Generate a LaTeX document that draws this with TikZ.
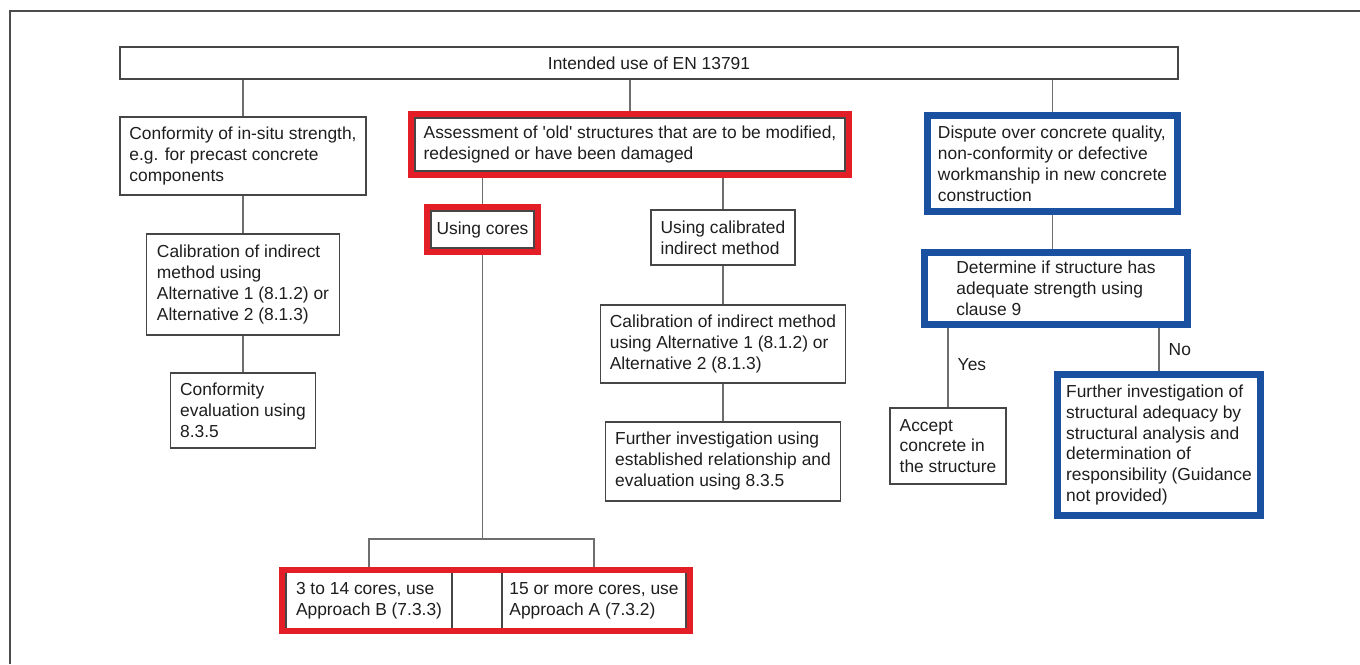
\documentclass[tikz,border=0pt]{standalone}
\usepackage{fontspec}
\setmainfont{Liberation Sans}
\usepackage{tikz}
\usetikzlibrary{positioning, fit}

\definecolor{markred}{RGB}{228,30,38}
\definecolor{markblue}{RGB}{26,80,160}
\definecolor{boxline}{RGB}{70,70,70}
\definecolor{linkgray}{RGB}{110,110,110}
\definecolor{textdark}{RGB}{30,30,30}

\begin{document}
\begin{tikzpicture}[
    x=0.02cm, y=-0.02cm,
    node distance=0.74cm,
    box/.style={rectangle, draw=boxline, line width=1.1pt, fill=white,
                align=left, inner xsep=3pt, inner ysep=2pt, text=textdark,
                font=\fontsize{9.9}{11.9}\selectfont},
    redmark/.style={rectangle, draw=markred, line width=0.12cm, inner sep=0.06cm},
    bluemark/.style={rectangle, draw=markblue, line width=0.14cm, inner sep=0.04cm},
    link/.style={draw=linkgray, line width=1pt},
    answer/.style={text=textdark, font=\fontsize{9.9}{11.9}\selectfont},
    frameline/.style={draw=black!70, line width=1.1pt}
]
\useasboundingbox (0,0) rectangle (1360,664);
\draw[frameline] (10,664) -- (10,11) -- (1360,11);

\node[box, minimum width=21.16cm, minimum height=0.64cm] (intended) at (649,63) {Intended use of EN 13791};

% left branch
\node[box, minimum width=4.92cm, minimum height=1.56cm] (insitu) at (243,156)
    {Conformity of in-situ strength,\\e.g. for precast concrete\\components};
\node[box, minimum width=3.86cm, minimum height=2.02cm, below=0.74cm of insitu] (calleft)
    {Calibration of indirect\\method using\\Alternative 1 (8.1.2) or\\Alternative 2 (8.1.3)};
\node[box, minimum width=2.9cm, minimum height=1.5cm, below=0.72cm of calleft] (confeval)
    {Conformity\\evaluation using\\8.3.5};

% middle branch
\node[box, minimum width=8.6cm, minimum height=1.06cm] (assess) at (630,144.5)
    {Assessment of \textquotesingle old\textquotesingle{} structures that are to be modified,\\redesigned or have been damaged};
\node[box, minimum width=2.02cm, minimum height=0.74cm] (cores) at (482.5,229.5) {Using cores};
\node[box, minimum width=2.88cm, minimum height=1.1cm] (calind) at (723,237.5)
    {Using calibrated\\indirect method};
\node[box, minimum width=4.9cm, minimum height=1.56cm, below=0.76cm of calind] (calright)
    {Calibration of indirect method\\using Alternative 1 (8.1.2) or\\Alternative 2 (8.1.3)};
\node[box, minimum width=4.7cm, minimum height=1.58cm, below=0.74cm of calright] (furtherinv)
    {Further investigation using\\established relationship and\\evaluation using 8.3.5};
\node[box, minimum width=3.32cm, minimum height=1.14cm] (approachB) at (369,600.5)
    {3 to 14 cores, use\\Approach B (7.3.3)};
\node[box, minimum width=3.68cm, minimum height=1.14cm] (approachA) at (594,600.5)
    {15 or more cores, use\\Approach A (7.3.2)};
\coordinate[below=5.8cm of cores] (split);

% right branch
\node[box, minimum width=4.9cm, minimum height=1.82cm] (dispute) at (1052.5,163.5)
    {Dispute over concrete quality,\\non-conformity or defective\\workmanship in new concrete\\construction};
\node[box, minimum width=5.16cm, minimum height=1.34cm] (adequate) at (1056,288.5)
    {Determine if structure has\\adequate strength using\\clause 9};
\node[box, minimum width=2.32cm, minimum height=1.52cm] (accept) at (948,446)
    {Accept\\concrete in\\the structure};
\node[box, minimum width=3.96cm, minimum height=2.72cm] (structural) at (1159,445)
    {Further investigation of\\structural adequacy by\\structural analysis and\\determination of\\responsibility (Guidance\\not provided)};

\draw[link] (insitu.north) -- (insitu.north |- intended.south);
\draw[link] (assess.north) -- (assess.north |- intended.south);
\draw[link] (dispute.north) -- (dispute.north |- intended.south);
\draw[link] (insitu) -- (calleft);
\draw[link] (calleft) -- (confeval);
\draw[link] (cores.north) -- (cores.north |- assess.south);
\draw[link] (calind.north) -- (calind.north |- assess.south);
\draw[link] (calind) -- (calright);
\draw[link] (calright) -- (furtherinv);
\draw[link] (cores.south) -- (split);
\draw[link] (split) -| (approachB.north);
\draw[link] (split) -| (approachA.north);
\draw[link] (dispute.south) -- (dispute.south |- adequate.north);
\draw[link] (accept.north |- adequate.south) -- node[answer, right=0.06cm]{Yes} (accept.north);
\draw[link] (structural.north |- adequate.south) -- node[answer, right=0.06cm]{No} (structural.north);

% heavy lower edges
\draw[boxline, line width=1.6pt] ([yshift=-0.5pt]approachB.south west) -- ([yshift=-0.5pt]approachB.south east);
\draw[boxline, line width=1.6pt] ([yshift=-0.5pt]approachA.south west) -- ([yshift=-0.5pt]approachA.south east);

% highlight frames
\node[redmark, fit=(assess)] (assessmark) {};
\node[redmark, fit=(cores)] (coresmark) {};
\node[redmark, inner ysep=0.03cm, fit=(approachB)(approachA)] (approachmark) {};
\node[bluemark, fit=(dispute)] (disputemark) {};
\node[bluemark, fit=(adequate)] (adequatemark) {};
\node[bluemark, fit=(structural)] (structuralmark) {};

\end{tikzpicture}
\end{document}
